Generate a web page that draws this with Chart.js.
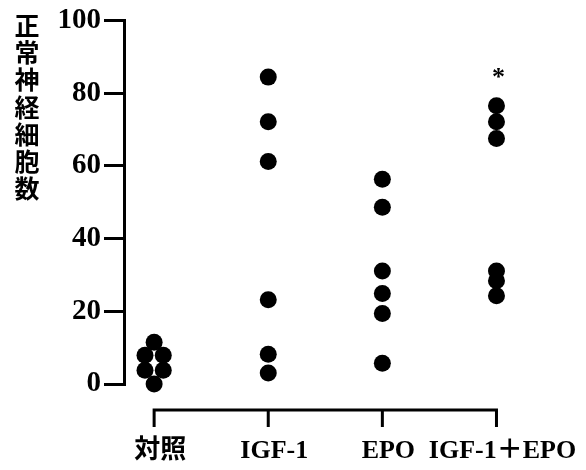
<!DOCTYPE html>
<html lang="ja">
<head>
  <meta charset="UTF-8">
  <title>正常神経細胞数</title>
  <script src="https://cdn.jsdelivr.net/npm/chart.js@4/dist/chart.umd.min.js"></script>
  <style>
    html, body { margin: 0; padding: 0; background: #fff; }
  </style>
</head>
<body>
  <canvas id="cellChart" width="586" height="470"></canvas>
  <script>
    // groups on the x axis
    const categories = ['対照', 'IGF-1', 'EPO', 'IGF-1＋EPO'];
    // y axis
    const yTitle = '正常神経細胞数';
    const yTicks = [0, 20, 40, 60, 80, 100];
    // one value per animal
    const controlVals = [11.5, 7.9, 7.9, 3.8, 3.8, 0];
    const controlSpread = [0, -0.08, 0.08, -0.08, 0.08, 0];
    const igfVals = [84.4, 72.1, 61.2, 23.2, 8.2, 3.0];
    const epoVals = [56.3, 48.6, 31.1, 24.9, 19.4, 5.7];
    const comboVals = [76.5, 72.1, 67.5, 31.1, 28.4, 24.3];
    // significance mark per group
    const sigMarks = ['', '', '', '*'];

    const groups = [controlVals, igfVals, epoVals, comboVals];
    const spreads = [controlSpread, [], [], []];

    const serif = "'Liberation Serif', 'Noto Sans CJK JP', serif";

    const datasets = groups.map((vals, i) => ({
      label: categories[i],
      data: vals.map((v, k) => ({ x: i + (spreads[i][k] || 0), y: v })),
      backgroundColor: '#000',
      borderColor: '#000',
      borderWidth: 0,
      pointRadius: 8.5,
      pointHoverRadius: 8.5,
      clip: false
    }));

    // offset bracket x axis, stacked y title, asterisks
    const extras = {
      id: 'extras',
      afterDraw(chart) {
        const { ctx, scales: { x, y } } = chart;
        ctx.save();
        ctx.strokeStyle = '#000';
        ctx.lineWidth = 3;
        const lineY = y.bottom + 26;
        const tickLen = 17;
        const first = x.getPixelForValue(0);
        const last = x.getPixelForValue(categories.length - 1);
        ctx.beginPath();
        ctx.moveTo(first, lineY + tickLen);
        ctx.lineTo(first, lineY);
        ctx.lineTo(last, lineY);
        ctx.lineTo(last, lineY + tickLen);
        for (let i = 1; i < categories.length - 1; i++) {
          const px = x.getPixelForValue(i);
          ctx.moveTo(px, lineY);
          ctx.lineTo(px, lineY + tickLen);
        }
        ctx.stroke();

        // vertical title, one character under the other
        ctx.fillStyle = '#000';
        ctx.font = "bold 25px 'Noto Sans CJK JP'";
        ctx.textAlign = 'center';
        ctx.textBaseline = 'middle';
        Array.from(yTitle).forEach((ch, i) => {
          ctx.fillText(ch, 27, chart.chartArea.top + 5 + i * 27.2);
        });

        ctx.font = 'bold 26px ' + serif;
        ctx.textBaseline = 'alphabetic';
        sigMarks.forEach((m, i) => {
          if (!m) return;
          const top = y.getPixelForValue(Math.max(...groups[i]));
          ctx.fillText(m, x.getPixelForValue(i) + 2, top - 21);
        });
        ctx.restore();
      }
    };

    new Chart(document.getElementById('cellChart'), {
      type: 'scatter',
      data: { datasets },
      options: {
        responsive: false,
        animation: false,
        layout: { padding: { top: 18, left: 0, right: 0, bottom: 0 } },
        plugins: {
          legend: { display: false },
          tooltip: { enabled: false }
        },
        scales: {
          x: {
            type: 'linear',
            position: 'bottom',
            min: -0.264,
            max: 3.71,
            grid: { display: false, drawTicks: false },
            border: { display: false },
            afterBuildTicks: s => { s.ticks = categories.map((_, i) => ({ value: i })); },
            afterFit: s => { s.height = 86; s.paddingLeft = 0; s.paddingRight = 0; },
            ticks: {
              autoSkip: false,
              maxRotation: 0,
              padding: 52,
              labelOffset: 6,
              color: '#000',
              font: { family: serif, size: 26, weight: 'bold' },
              callback: v => categories[v]
            }
          },
          y: {
            min: 0,
            max: 100,
            afterBuildTicks: s => { s.ticks = yTicks.map(v => ({ value: v })); },
            afterFit: s => { s.width = 124; },
            grid: {
              drawOnChartArea: false,
              tickLength: 20,
              lineWidth: 3,
              tickColor: '#000'
            },
            border: { display: true, color: '#000', width: 3 },
            ticks: {
              padding: 3,
              color: '#000',
              font: { family: serif, size: 29, weight: 'bold' }
            }
          }
        }
      },
      plugins: [extras]
    });
  </script>
</body>
</html>
